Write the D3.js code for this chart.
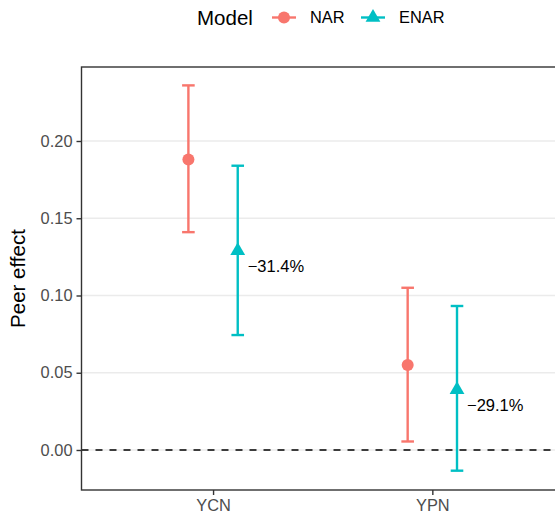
<!DOCTYPE html>
<html>
<head>
<meta charset="utf-8">
<script src="https://cdn.jsdelivr.net/npm/d3@7"></script>
<style>
  html, body { margin: 0; padding: 0; background: #fff; }
  svg { display: block; font-family: "Liberation Sans", Arial, Helvetica, sans-serif; }
</style>
</head>
<body>
<svg id="chart" width="555" height="512"></svg>
<script>
// ---- data ----
const categories = ["YCN", "YPN"];
const models = ["NAR", "ENAR"];
const narEst = [0.188, 0.055];
const narLow = [0.141, 0.0055];
const narHigh = [0.236, 0.105];
const enarEst = [0.129, 0.039];
const enarLow = [0.0744, -0.0134];
const enarHigh = [0.184, 0.0932];
const changeLabels = ["\u221231.4%", "\u221229.1%"];
const yTicks = [0, 0.05, 0.10, 0.15, 0.20];

const colors = { NAR: "#F8766D", ENAR: "#00BFC4" };

const svg = d3.select("#chart");

// panel geometry
const panel = { left: 81.5, top: 67, bottom: 490 };
const x = d3.scaleLinear().domain([0.4, 2.6]).range([panel.left, 563.9]);
const y = d3.scaleLinear().domain([-0.0259, 0.2479]).range([panel.bottom, panel.top]);
const dodge = 0.1125;
const capHalf = 6.3;

const series = [
  { model: "NAR", est: narEst, lo: narLow, hi: narHigh, off: -dodge },
  { model: "ENAR", est: enarEst, lo: enarLow, hi: enarHigh, off: dodge }
];

// grid lines
svg.append("g").selectAll("line").data(yTicks).join("line")
  .attr("x1", panel.left).attr("x2", 555)
  .attr("y1", d => y(d)).attr("y2", d => y(d))
  .attr("stroke", "#EBEBEB").attr("stroke-width", 1.4);

// zero dashed line
svg.append("line")
  .attr("x1", panel.left).attr("x2", 555)
  .attr("y1", y(0)).attr("y2", y(0))
  .attr("stroke", "#000").attr("stroke-width", 1.5)
  .attr("stroke-dasharray", "7,7");

// error bars and points
series.forEach(s => {
  const g = svg.append("g");
  categories.forEach((c, i) => {
    const cx = x(i + 1 + s.off);
    g.append("line")
      .attr("x1", cx).attr("x2", cx)
      .attr("y1", y(s.lo[i])).attr("y2", y(s.hi[i]))
      .attr("stroke", colors[s.model]).attr("stroke-width", 2.4);
    [s.lo[i], s.hi[i]].forEach(v => {
      g.append("line")
        .attr("x1", cx - capHalf).attr("x2", cx + capHalf)
        .attr("y1", y(v)).attr("y2", y(v))
        .attr("stroke", colors[s.model]).attr("stroke-width", 2.4);
    });
    if (s.model === "NAR") {
      g.append("circle").attr("cx", cx).attr("cy", y(s.est[i])).attr("r", 6)
        .attr("fill", colors.NAR);
    } else {
      g.append("path")
        .attr("d", d3.symbol(d3.symbolTriangle, 95)())
        .attr("transform", `translate(${cx},${y(s.est[i])})`)
        .attr("fill", colors.ENAR);
    }
  });
});

// change labels
svg.append("g").selectAll("text").data(categories).join("text")
  .attr("x", (d, i) => x(i + 1 + dodge) + 10)
  .attr("y", (d, i) => y(enarEst[i] - 0.01))
  .attr("dy", "0.35em")
  .attr("font-size", 16.5)
  .attr("fill", "#000")
  .text((d, i) => changeLabels[i]);

// panel border
svg.append("rect")
  .attr("x", panel.left).attr("y", panel.top)
  .attr("width", 563.9 - panel.left).attr("height", panel.bottom - panel.top)
  .attr("fill", "none").attr("stroke", "#333333").attr("stroke-width", 1.4);

// y axis
const yAxis = d3.axisLeft(y).tickValues(yTicks).tickFormat(d3.format(".2f")).tickSize(5).tickPadding(4);
const ga = svg.append("g").attr("transform", `translate(${panel.left},0)`).call(yAxis);
ga.select(".domain").remove();
ga.selectAll(".tick line").attr("stroke", "#333333").attr("stroke-width", 1.4);
ga.selectAll(".tick text").attr("fill", "#4D4D4D").attr("font-size", 16.4)
  .attr("font-family", "Liberation Sans, Arial, sans-serif");

// x axis
const xAxis = d3.axisBottom(x).tickValues([1, 2]).tickFormat((d) => categories[d - 1]).tickSize(5).tickPadding(4);
const gx = svg.append("g").attr("transform", `translate(0,${panel.bottom})`).call(xAxis);
gx.select(".domain").remove();
gx.selectAll(".tick line").attr("stroke", "#333333").attr("stroke-width", 1.4);
gx.selectAll(".tick text").attr("fill", "#4D4D4D").attr("font-size", 16.4)
  .attr("font-family", "Liberation Sans, Arial, sans-serif");

// y axis title
svg.append("text")
  .attr("transform", `translate(25,${(panel.top + panel.bottom) / 2}) rotate(-90)`)
  .attr("text-anchor", "middle")
  .attr("font-size", 20.5)
  .attr("fill", "#000")
  .text("Peer effect");

// legend
const lg = svg.append("g");
lg.append("text").attr("x", 197).attr("y", 24.5).attr("font-size", 20.5).attr("fill", "#000").text("Model");
const keyX = [272, 361];
models.forEach((m, i) => {
  const kx = keyX[i];
  lg.append("line").attr("x1", kx).attr("x2", kx + 24).attr("y1", 17.5).attr("y2", 17.5)
    .attr("stroke", colors[m]).attr("stroke-width", 2.4);
  if (m === "NAR") {
    lg.append("circle").attr("cx", kx + 12).attr("cy", 17.5).attr("r", 6).attr("fill", colors[m]);
  } else {
    lg.append("path").attr("d", d3.symbol(d3.symbolTriangle, 95)())
      .attr("transform", `translate(${kx + 12},17.5)`).attr("fill", colors[m]);
  }
  lg.append("text").attr("x", kx + 38).attr("y", 17.5).attr("dy", "0.35em")
    .attr("font-size", 16.4).attr("fill", "#000").text(m);
});
</script>
</body>
</html>
